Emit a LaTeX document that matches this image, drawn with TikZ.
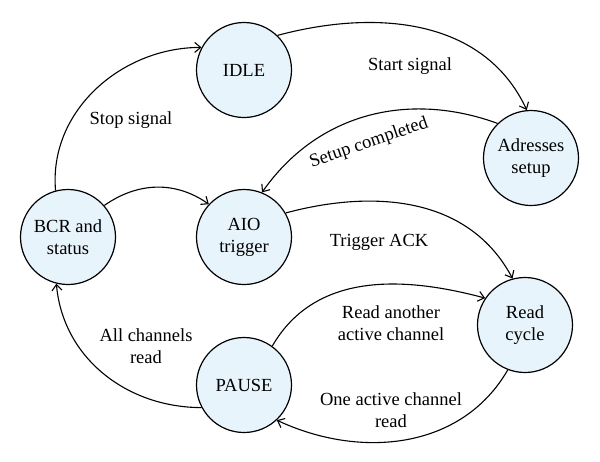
\documentclass[tikz,border=0pt]{standalone}
\usepackage{fontspec}
\setmainfont{Liberation Serif}
\usetikzlibrary{arrows.meta}
\definecolor{statefill}{RGB}{232,244,252}
\begin{document}
\begin{tikzpicture}[x=1pt,y=-1pt,
  state/.style={circle,draw=black,line width=1.2pt,fill=statefill,minimum size=95pt,inner sep=0pt,align=center,font=\fontsize{18.5}{22}\selectfont},
  edge/.style={line width=1.1pt,-{Straight Barb[length=6pt,width=10pt]}},
  lbl/.style={align=center,font=\fontsize{18.5}{22}\selectfont,inner sep=0pt}]
\useasboundingbox (0,0) rectangle (600,461);
\node[state] (idle) at (244,70) {IDLE};
\node[state] (addr) at (531,158) {Adresses\\setup};
\node[state] (aio) at (244,237) {AIO\\trigger};
\node[state] (bcr) at (68,237) {BCR and\\status};
\node[state] (pause) at (244,385) {PAUSE};
\node[state] (read) at (525,325) {Read\\cycle};

\draw[edge] (idle.46) to[out=15,in=115] (addr.95);
\draw[edge] (addr.134) to[out=160,in=55] (aio.68);
\draw[edge] (bcr.105) to[out=95,in=180] (idle.152);
\draw[edge] (bcr.41) to[out=35,in=145] (aio.137);
\draw[edge] (aio.30) to[out=15,in=118] (read.105);
\draw[edge] (pause.54) to[out=60,in=165] (read.146);
\draw[edge] (read.249) to[out=240,in=-25] (pause.-47);
\draw[edge] (pause.208) to[out=180,in=-85] (bcr.256);

\node[lbl] (l1) at (410,66) {Start signal};
\node[lbl,rotate=19] (l2) at (369,143) {Setup completed};
\node[lbl] (l3) at (131,120) {Stop signal};
\node[lbl] (l4) at (379,242) {Trigger ACK};
\node[lbl] (l5) at (391,323) {Read another\\active channel};
\node[lbl] (l6) at (391,410) {One active channel\\read};
\node[lbl] (l7) at (146,346) {All channels\\read};
\end{tikzpicture}
\end{document}
